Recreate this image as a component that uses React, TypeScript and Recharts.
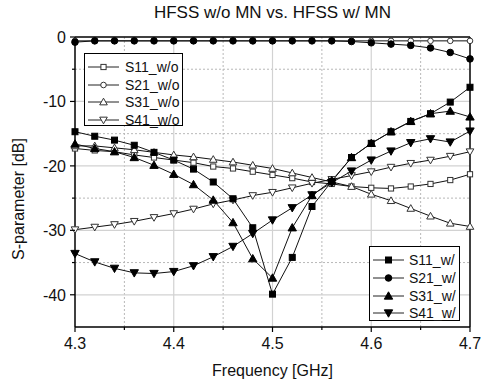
import React from 'react';
import { LineChart, Line, XAxis, YAxis, ReferenceLine } from 'recharts';

// frequency points, GHz
const freqs = [4.3, 4.32, 4.34, 4.36, 4.38, 4.4, 4.42, 4.44, 4.46, 4.48, 4.5, 4.52, 4.54, 4.56, 4.58, 4.6, 4.62, 4.64, 4.66, 4.68, 4.7];

// without matching network
const s11Wo = [-17.3, -17.6, -17.8, -18.3, -18.7, -19.1, -19.5, -20.1, -20.4, -20.9, -21.4, -21.9, -22.5, -22.8, -23.2, -23.4, -23.5, -23.2, -22.8, -22.2, -21.3];
const s21Wo = [-0.6, -0.6, -0.6, -0.6, -0.6, -0.6, -0.6, -0.6, -0.6, -0.6, -0.6, -0.6, -0.6, -0.6, -0.6, -0.6, -0.6, -0.6, -0.6, -0.6, -0.6];
const s31Wo = [-16.9, -16.9, -17.2, -17.5, -17.9, -18.3, -18.6, -19.0, -19.4, -19.9, -20.4, -21.1, -21.8, -22.5, -23.2, -24.4, -25.4, -26.6, -27.8, -28.9, -29.4];
const s41Wo = [-29.9, -29.5, -29.1, -28.6, -28.0, -27.4, -26.7, -25.9, -25.3, -24.6, -24.1, -23.4, -22.7, -22.1, -21.5, -20.9, -20.2, -19.6, -19.1, -18.5, -17.8];

// with matching network
const s11W = [-14.7, -15.4, -16.0, -16.8, -17.9, -19.1, -20.5, -22.5, -25.1, -29.6, -39.9, -34.2, -26.3, -22.4, -18.7, -16.5, -14.7, -13.1, -11.9, -10.1, -7.8];
const s21W = [-0.8, -0.6, -0.6, -0.6, -0.6, -0.6, -0.6, -0.6, -0.6, -0.6, -0.6, -0.6, -0.6, -0.6, -0.7, -0.9, -1.1, -1.3, -1.7, -2.4, -3.4];
const s31W = [-16.6, -17.3, -17.8, -18.7, -19.9, -21.3, -22.9, -25.3, -28.8, -34.4, -37.4, -29.6, -24.6, -22.3, -18.7, -16.5, -14.7, -13.1, -11.9, -11.5, -12.4];
const s41W = [-33.6, -34.9, -35.9, -36.6, -36.7, -36.4, -35.5, -34.1, -32.5, -30.5, -28.4, -26.5, -24.5, -22.6, -20.8, -19.1, -17.7, -16.4, -15.8, -16.3, -14.6];

const xTicks = [4.3, 4.35, 4.4, 4.45, 4.5, 4.55, 4.6, 4.65, 4.7];
const yTicks = [0, -5, -10, -15, -20, -25, -30, -35, -40];
const majorX = [4.4, 4.5, 4.6];
const minorX = [4.35, 4.45, 4.55, 4.65];
const majorY = [-10, -20, -30, -40];
const minorY = [-5, -15, -25, -35];

type Shape = 'square' | 'circle' | 'up' | 'down';

const seriesWo = [
  { key: 's11Wo', name: 'S11_w/o', values: s11Wo, shape: 'square' as Shape },
  { key: 's21Wo', name: 'S21_w/o', values: s21Wo, shape: 'circle' as Shape },
  { key: 's31Wo', name: 'S31_w/o', values: s31Wo, shape: 'up' as Shape },
  { key: 's41Wo', name: 'S41_w/o', values: s41Wo, shape: 'down' as Shape },
];
const seriesW = [
  { key: 's11W', name: 'S11_w/', values: s11W, shape: 'square' as Shape },
  { key: 's21W', name: 'S21_w/', values: s21W, shape: 'circle' as Shape },
  { key: 's31W', name: 'S31_w/', values: s31W, shape: 'up' as Shape },
  { key: 's41W', name: 'S41_w/', values: s41W, shape: 'down' as Shape },
];

const data = freqs.map((f, i) => {
  const row: any = { f };
  [...seriesWo, ...seriesW].forEach(s => { row[s.key] = s.values[i]; });
  return row;
});

const FONT = '"Liberation Sans", Arial, sans-serif';

const Marker = ({ cx, cy, shape, filled }: { cx: number; cy: number; shape: Shape; filled: boolean }) => {
  const fill = filled ? '#000' : '#fff';
  const stroke = filled ? '#000' : '#333';
  if (shape === 'square') {
    const s = filled ? 3.0 : 2.6;
    return <rect x={cx - s} y={cy - s} width={2 * s} height={2 * s} fill={fill} stroke={stroke} strokeWidth={1} />;
  }
  if (shape === 'circle') {
    return <circle cx={cx} cy={cy} r={filled ? 3.3 : 2.8} fill={fill} stroke={stroke} strokeWidth={1} />;
  }
  const w = filled ? 4.2 : 3.8;
  const pts = shape === 'up'
    ? `${cx},${cy - w} ${cx + w},${cy + w * 0.75} ${cx - w},${cy + w * 0.75}`
    : `${cx},${cy + w} ${cx + w},${cy - w * 0.75} ${cx - w},${cy - w * 0.75}`;
  return <polygon points={pts} fill={fill} stroke={stroke} strokeWidth={1} />;
};

const isMajor = (v: number, step: number) => Math.abs(v / step - Math.round(v / step)) < 1e-6;

const XTick = (props: any) => {
  const { x, y, payload } = props;
  const major = isMajor(payload.value, 0.1);
  return (
    <g>
      <line x1={x} y1={y} x2={x} y2={y + (major ? 5 : 3)} stroke="#000" strokeWidth={1.2} />
      {major && (
        <text x={x} y={y + 21.5} textAnchor="middle" fontSize={16} fontFamily={FONT} fill="#111">
          {payload.value.toFixed(1)}
        </text>
      )}
    </g>
  );
};

const YTick = (props: any) => {
  const { x, y, payload } = props;
  const major = isMajor(payload.value, 10);
  return (
    <g>
      <line x1={x - (major ? 5 : 3)} y1={y} x2={x} y2={y} stroke="#000" strokeWidth={1.2} />
      {major && (
        <text x={x - 9} y={y} dy="0.36em" textAnchor="end" fontSize={16} fontFamily={FONT} fill="#111">
          {payload.value}
        </text>
      )}
    </g>
  );
};

const LegendBox = ({ items, filled, left, top, width, height, lineX, textX, rows }: any) => (
  <div style={{ position: 'absolute', left, top, width, height, border: '1px solid #000', background: '#fff', boxSizing: 'border-box' }}>
    {items.map((s: any, i: number) => (
      <div key={s.key} style={{ position: 'absolute', left: 0, top: rows[i] - top - 9, height: 18, width: width - 2 }}>
        <svg width={34} height={18} style={{ position: 'absolute', left: lineX - left - 1, top: 0 }}>
          <line x1={0} y1={9} x2={31} y2={9} stroke="#222" strokeWidth={1} />
          <Marker cx={15.5} cy={9} shape={s.shape} filled={filled} />
        </svg>
        <span style={{ position: 'absolute', left: textX - left - 1, top: 0, lineHeight: '18px', fontSize: 14, fontFamily: FONT, color: '#111', whiteSpace: 'nowrap' }}>
          {s.name}
        </span>
      </div>
    ))}
  </div>
);

export default function App() {
  return (
    <div style={{ position: 'absolute', left: 0, top: 0, width: 489, height: 385, background: '#fff', fontFamily: FONT }}>
      <div style={{ position: 'absolute', left: 0, width: 545, top: 3, textAlign: 'center', fontSize: 17, color: '#111', whiteSpace: 'nowrap' }}>
        HFSS w/o MN vs. HFSS w/ MN
      </div>
      <LineChart width={489} height={385} data={data} margin={{ top: 37, right: 19, bottom: 28, left: 0 }}>
        {minorX.map(v => <ReferenceLine key={`mx${v}`} x={v} stroke="#b8b8b8" strokeDasharray="2 2" strokeWidth={1} />)}
        {minorY.map(v => <ReferenceLine key={`my${v}`} y={v} stroke="#b8b8b8" strokeDasharray="2 2" strokeWidth={1} />)}
        {majorX.map(v => <ReferenceLine key={`Mx${v}`} x={v} stroke="#d2d2d2" strokeWidth={1.2} />)}
        {majorY.map(v => <ReferenceLine key={`My${v}`} y={v} stroke="#d2d2d2" strokeWidth={1.2} />)}
        <ReferenceLine y={0} stroke="#000" strokeWidth={1.5} />
        <ReferenceLine x={4.7} stroke="#000" strokeWidth={1.5} />
        <XAxis
          dataKey="f"
          type="number"
          domain={[4.3, 4.7]}
          ticks={xTicks}
          interval={0}
          height={30}
          tickSize={0}
          tickMargin={0}
          tickLine={false}
          axisLine={{ stroke: '#000', strokeWidth: 1.5 }}
          tick={<XTick />}
        />
        <YAxis
          type="number"
          domain={[-45, 0]}
          ticks={yTicks}
          interval={0}
          width={75}
          tickSize={0}
          tickMargin={0}
          tickLine={false}
          axisLine={{ stroke: '#000', strokeWidth: 1.5 }}
          tick={<YTick />}
        />
        {[...seriesWo, ...seriesW].map(s => {
          const filled = seriesW.includes(s);
          return (
            <Line
              key={s.key}
              dataKey={s.key}
              name={s.name}
              type="linear"
              stroke="#111"
              strokeWidth={1}
              isAnimationActive={false}
              dot={(p: any) => <Marker key={`${s.key}-${p.index}`} cx={p.cx} cy={p.cy} shape={s.shape} filled={filled} />}
              activeDot={false}
            />
          );
        })}
      </LineChart>
      <div style={{ position: 'absolute', left: 19, top: 199, transform: 'translate(-50%, -50%) rotate(-90deg)', fontSize: 16, color: '#111', whiteSpace: 'nowrap' }}>
        S-parameter [dB]
      </div>
      <div style={{ position: 'absolute', left: 0, width: 545, top: 362, textAlign: 'center', fontSize: 16, color: '#111', whiteSpace: 'nowrap' }}>
        Frequency [GHz]
      </div>
      <LegendBox items={seriesWo} filled={false} left={84} top={53} width={99} height={73} lineX={88} textX={125} rows={[66, 83.5, 101, 118.5]} />
      <LegendBox items={seriesW} filled={true} left={369} top={246} width={91} height={75} lineX={373} textX={409} rows={[259, 277, 294.5, 312]} />
    </div>
  );
}
